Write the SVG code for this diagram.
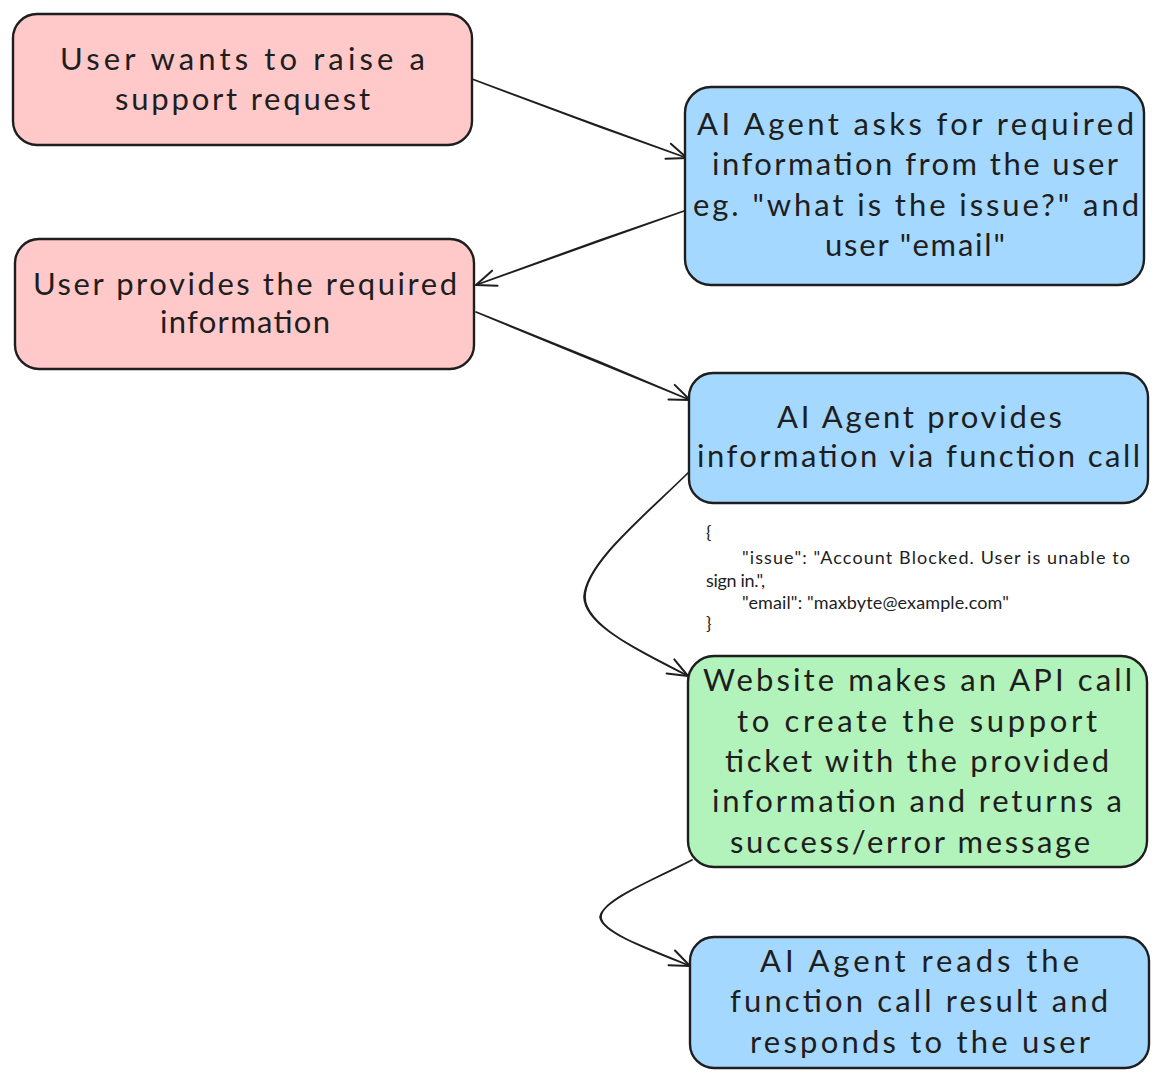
<svg xmlns="http://www.w3.org/2000/svg" width="1166" height="1090" viewBox="0 0 1166 1090">
<style>
text{font-family:"Lato","Noto Sans",sans-serif;fill:#1e1e1e}
.l{font-size:31px}
.s{font-size:18px}
.box{stroke:#1e1e1e;stroke-width:2.4}
.pink{fill:#ffc9c9}.blue{fill:#a5d8ff}.green{fill:#b2f2bb}
.c{fill:none;stroke:#1e1e1e;stroke-width:1.7;stroke-linecap:round;marker-end:url(#a)}
</style>
<defs>
<marker id="a" markerUnits="userSpaceOnUse" markerWidth="30" markerHeight="30" refX="24" refY="12" orient="auto" overflow="visible">
<path d="M4 4L24 12L4 20" fill="none" stroke="#1e1e1e" stroke-width="2" stroke-linecap="round" stroke-linejoin="round"/>
</marker>
</defs>
<rect width="1166" height="1090" fill="#fff"/>
<g id="connectors">
<path class="c" d="M472 79L580 119L687 158M472 79L600 127L687 158"/>
<path class="c" d="M684 211L580 248L476 285M684 211L600 240L476 285"/>
<path class="c" d="M476 312L580 355L690 400M476 312L600 362L690 400"/>
<path class="c" d="M689 472C640 520 585 565 585 597C585 625 640 652 688 676M689 472C642 518 586 563 584 597C585 627 642 651 688 676"/>
<path class="c" d="M692 860C650 882 601 900 601 917C601 932 650 950 690 966M692 860C652 880 602 901 600 917C602 934 652 949 690 966"/>
</g>
<g id="n1"><rect class="box pink" x="13" y="14" width="459" height="131" rx="24"/>
<text class="l" x="60" y="70" textLength="365" lengthAdjust="spacing">User wants to raise a</text>
<text class="l" x="115" y="110" textLength="255" lengthAdjust="spacing">support request</text></g>
<g id="n2"><rect class="box pink" x="15" y="239" width="459" height="130" rx="24"/>
<text class="l" x="33" y="295" textLength="424" lengthAdjust="spacing">User provides the required</text>
<text class="l" x="160" y="333" textLength="170" lengthAdjust="spacing">information</text></g>
<g id="n3"><rect class="box blue" x="685" y="87" width="459" height="198" rx="26"/>
<text class="l" x="697" y="135" textLength="437" lengthAdjust="spacing">AI Agent asks for required</text>
<text class="l" x="712" y="175" textLength="406" lengthAdjust="spacing">information from the user</text>
<text class="l" x="693" y="216" textLength="446" lengthAdjust="spacing">eg. "what is the issue?" and</text>
<text class="l" x="825" y="256" textLength="180" lengthAdjust="spacing">user "email"</text></g>
<g id="n4"><rect class="box blue" x="689" y="373" width="459" height="130" rx="24"/>
<text class="l" x="777" y="428" textLength="285" lengthAdjust="spacing">AI Agent provides</text>
<text class="l" x="697" y="467" textLength="443" lengthAdjust="spacing">information via function call</text></g>
<g id="note">
<text class="s" x="706" y="539">{</text>
<text class="s" x="742" y="564" textLength="388" lengthAdjust="spacing">"issue": "Account Blocked. User is unable to</text>
<text class="s" x="706" y="587" textLength="59" lengthAdjust="spacing">sign in.",</text>
<text class="s" x="742" y="609" textLength="267" lengthAdjust="spacing">"email": "maxbyte@example.com"</text>
<text class="s" x="706" y="630">}</text></g>
<g id="n5"><rect class="box green" x="688" y="656" width="459" height="211" rx="26"/>
<text class="l" x="703" y="691" textLength="429" lengthAdjust="spacing">Website makes an API call</text>
<text class="l" x="737" y="732" textLength="360" lengthAdjust="spacing">to create the support</text>
<text class="l" x="725" y="772" textLength="384" lengthAdjust="spacing">ticket with the provided</text>
<text class="l" x="712" y="812" textLength="410" lengthAdjust="spacing">information and returns a</text>
<text class="l" x="730" y="853" textLength="360" lengthAdjust="spacing">success/error message</text></g>
<g id="n6"><rect class="box blue" x="690" y="937" width="459" height="131" rx="24"/>
<text class="l" x="760" y="972" textLength="319" lengthAdjust="spacing">AI Agent reads the</text>
<text class="l" x="730" y="1012" textLength="378" lengthAdjust="spacing">function call result and</text>
<text class="l" x="750" y="1053" textLength="340" lengthAdjust="spacing">responds to the user</text></g>
</svg>
